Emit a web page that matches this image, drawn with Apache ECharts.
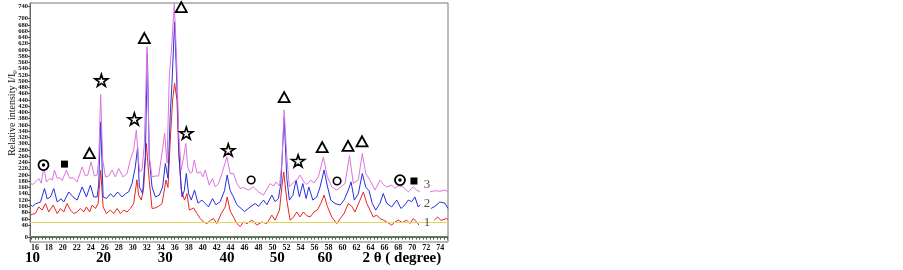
<!DOCTYPE html>
<html>
<head>
<meta charset="utf-8">
<script src="https://cdn.jsdelivr.net/npm/echarts@6/dist/echarts.min.js"></script>
<style>
html,body{margin:0;padding:0;background:#fff}
#xrd{width:903px;height:270px}
</style>
</head>
<body>
<div id="xrd"></div>
<script>
// tick labels
var xTicks = [16,18,20,22,24,26,28,30,32,34,36,38,40,42,44,46,48,50,52,54,56,58,60,62,64,66,68,70,72,74];
var yTicks = [0,20,40,60,80,100,120,140,160,180,200,220,240,260,280,300,320,340,360,380,400,
              420,440,460,480,500,520,540,560,580,600,620,640,660,680,700,720,740];
// second (large) label row under the axis
var degreeAt = [15.66, 25.8, 34.66, 43.5, 50.66, 57.5, 68.5];
var degreeText = ['10','20','30','40','50','60','2 \u03b8 ( degree)'];

// pattern 1 (red)
var curve1 = [[15.37,72],[15.7,75],[16.09,78],[16.56,98],[17.04,88],[17.51,109],[17.99,82],[18.61,104],[19.19,77],
  [19.66,93],[20.13,82],[20.61,109],[21.09,88],[21.56,77],[22.04,82],[22.51,93],[22.99,82],[23.37,98],[23.84,82],
  [24.19,104],[24.66,93],[25.04,109],[25.41,215],[25.76,98],[26.23,77],[26.8,88],[27.27,77],[27.76,93],[28.23,77],
  [28.7,88],[29.19,82],[29.66,93],[30.13,109],[30.6,185],[30.84,136],[31.23,120],[31.56,160],[31.94,301],[32.37,180],
  [32.76,93],[33.23,95],[33.7,100],[34.19,109],[34.76,184],[35.04,160],[35.37,312],[35.7,440],[35.99,493],[36.33,440],
  [36.56,280],[36.94,152],[37.41,120],[37.76,141],[38.09,88],[38.7,95],[39.19,77],[39.66,61],[40.13,50],[40.61,45],
  [41.09,55],[41.56,61],[42.04,45],[42.66,77],[43.23,98],[43.51,130],[43.94,85],[44.41,66],[44.9,45],[45.37,35],
  [45.84,50],[46.37,45],[47.04,56],[47.76,40],[48.47,50],[49.19,45],[49.9,72],[50.37,56],[50.99,88],[51.33,162],
  [51.6,210],[52.04,120],[52.51,56],[52.99,65],[53.47,82],[53.94,66],[54.41,82],[54.9,70],[55.37,66],[55.94,82],
  [56.41,88],[56.9,109],[57.37,136],[57.84,100],[58.47,66],[59.19,45],[59.66,60],[60.23,77],[60.84,109],[61.33,100],
  [61.8,82],[62.51,120],[62.99,146],[63.47,110],[63.94,88],[64.41,66],[64.9,72],[65.37,61],[65.84,56],[66.33,50],
  [67.04,40],[67.51,50],[67.99,56],[68.56,48],[69.19,56],[69.66,45],[70.13,61],[70.61,50],[70.94,40],[72,null],
  [73.13,56],[73.61,66],[74.09,55],[74.89,61],[75.1,58]];

// pattern 2 (blue)
var curve2 = [[15.37,104],[15.7,100],[16.09,108],[16.8,114],[17.37,157],[17.76,124],[18.23,130],[18.7,157],[19.19,114],
  [19.76,124],[20.13,114],[20.84,146],[21.47,130],[22.04,120],[22.76,162],[23.37,130],[23.94,168],[24.41,130],[24.9,130],
  [25.13,170],[25.41,370],[25.76,130],[26.23,125],[26.8,140],[27.27,130],[27.84,146],[28.47,130],[28.94,140],[29.41,146],
  [29.9,173],[30.37,226],[30.7,290],[30.94,162],[31.41,141],[31.8,260],[32.09,589],[32.37,250],[32.76,162],[33.23,130],
  [33.8,136],[34.27,162],[34.66,237],[35.04,190],[35.37,397],[35.61,493],[35.99,690],[36.37,450],[36.66,248],[37.04,130],
  [37.37,150],[37.66,205],[37.99,141],[38.37,120],[38.84,152],[39.33,110],[39.9,120],[40.37,109],[40.84,98],[41.41,125],
  [41.89,105],[42.51,115],[43.13,150],[43.51,200],[43.94,150],[44.41,130],[44.9,105],[45.51,93],[45.99,83],[46.8,98],
  [47.51,109],[47.99,100],[48.7,120],[49.19,105],[49.9,136],[50.37,115],[50.84,125],[51.19,173],[51.66,386],[52.04,190],
  [52.41,120],[52.9,135],[53.37,184],[53.84,130],[54.33,173],[54.8,125],[55.19,162],[55.76,120],[56.33,130],[56.8,162],
  [57.37,216],[57.84,165],[58.33,120],[58.94,109],[59.66,104],[60.23,120],[60.84,152],[61.23,178],[61.7,120],[62.27,140],
  [62.84,205],[63.33,162],[63.8,150],[64.27,109],[64.76,88],[65.37,110],[65.84,141],[66.33,110],[67.04,98],[67.76,120],
  [68.37,93],[68.94,105],[69.41,120],[69.9,115],[70.37,130],[70.84,98],[71.09,105],[72,null],[72.66,93],[73.23,100],
  [73.94,114],[74.66,110],[75.1,93]];

// pattern 3 (violet)
var curve3 = [[15.37,173],[15.7,170],[16.09,178],[16.56,189],[16.9,174],[17.27,225],[17.66,178],[18.13,189],[18.5,184],
  [18.8,216],[19.19,189],[19.56,192],[19.9,182],[20.51,216],[20.99,189],[21.47,192],[22.04,178],[22.76,226],[23.23,197],
  [23.56,200],[24.04,242],[24.51,197],[24.9,200],[25.13,248],[25.41,458],[25.7,250],[26.09,194],[26.56,197],[27.04,216],
  [27.51,194],[27.99,221],[28.61,194],[29.19,205],[29.66,250],[30.13,280],[30.51,344],[30.8,250],[31.0,210],[31.33,216],
  [31.66,300],[32.04,610],[32.37,260],[32.76,194],[33.23,197],[33.7,197],[34.19,270],[34.56,334],[34.9,238],[35.23,514],
  [35.61,622],[35.94,748],[36.3,560],[36.56,334],[36.94,216],[37.3,260],[37.59,301],[37.87,226],[38.2,206],[38.5,210],
  [38.8,248],[39.2,206],[39.7,210],[40.04,194],[40.37,216],[40.94,168],[41.41,189],[41.8,162],[42.27,173],[42.76,205],
  [43.47,258],[43.94,205],[44.41,205],[44.9,173],[45.37,157],[45.84,160],[46.56,152],[47.27,162],[47.99,146],[48.7,136],
  [49.19,155],[49.66,173],[50.13,165],[50.51,178],[50.99,165],[51.33,237],[51.66,408],[52.04,258],[52.41,162],[52.9,175],
  [53.47,184],[53.94,200],[54.41,180],[54.9,170],[55.47,184],[55.94,175],[56.56,194],[57.27,258],[57.84,194],[58.47,162],
  [59.19,152],[59.66,160],[60.37,173],[61.01,262],[61.56,173],[62.27,185],[62.84,269],[63.33,205],[63.94,184],[64.66,152],
  [65.37,184],[65.84,170],[66.33,162],[67.04,168],[67.51,158],[67.99,166],[68.7,162],[69.41,146],[70.13,162],[70.61,152],
  [71.09,146],[72,null],[72.51,146],[73.23,150],[73.94,148],[74.66,152],[75.1,146]];

// phase marks
var triangles = [[23.8,270],[31.66,638],[36.94,737],[51.66,449],[57.1,289],[60.8,293],[62.8,308]];
var stars = [[25.51,503],[30.23,379],[37.66,334],[43.66,280],[53.66,245]];
var rings = [[17.23,232],[68.23,184]];
var squares = [[20.23,235],[70.23,181]];
var circles = [[46.94,184],[59.23,181]];
var curveTags = [[72.09,47,'1'],[72.09,110,'2'],[72.09,168,'3']];
var yellowLevel = 50;
var greenLevel = 5;

var serif = '"Liberation Serif", "DejaVu Serif", serif';
var minorX = [];
for (var t = 15.5; t <= 75; t += 0.5) minorX.push(t);

var myChart = echarts.init(document.getElementById('xrd'));

function lineSeries(name, data, color) {
    return {
        name: name, type: 'line', data: data, showSymbol: false, symbol: 'none',
        connectNulls: false, lineStyle: {color: color, width: 1}, z: 3
    };
}
function markSeries(data, symbol, size, fill, bw) {
    return {
        type: 'scatter', data: data, symbol: symbol, symbolSize: size, z: 5,
        itemStyle: {color: fill, borderColor: '#000', borderWidth: bw, opacity: 1}
    };
}
var starPath = 'path://M50,0 L61,35 L98,35 L68,57 L79,91 L50,70 L21,91 L32,57 L2,35 L39,35 Z';

var option = {
    animation: false,
    grid: {left: 30, right: 455, top: 3, bottom: 28, show: true, borderColor: '#777', borderWidth: 1},
    xAxis: [{
        type: 'value', min: 15.3, max: 75.1,
        axisLine: {show: true, lineStyle: {color: '#666'}},
        axisTick: {show: true, customValues: minorX, length: 2, lineStyle: {color: '#555'}},
        axisLabel: {customValues: xTicks, margin: 2, fontSize: 8, fontWeight: 'bold', fontFamily: serif, color: '#111',
                    showMinLabel: true, showMaxLabel: true},
        splitLine: {show: false}
    }, {
        type: 'value', min: 15.3, max: 75.1, position: 'bottom',
        axisLine: {show: false}, axisTick: {show: false}, splitLine: {show: false},
        axisLabel: {
            customValues: degreeAt, margin: 9, fontSize: 15, fontWeight: 'bold', fontFamily: serif, color: '#000',
            showMinLabel: true, showMaxLabel: true,
            formatter: function (v) {
                for (var i = 0; i < degreeAt.length; i++) {
                    if (Math.abs(degreeAt[i] - v) < 0.01) return degreeText[i];
                }
                return '';
            }
        }
    }],
    yAxis: {
        type: 'value', min: -14, max: 750,
        axisLine: {show: true, lineStyle: {color: '#666'}},
        axisTick: {show: true, customValues: yTicks, length: 2, lineStyle: {color: '#555'}},
        axisLabel: {customValues: yTicks, margin: 2, fontSize: 6.5, fontWeight: 'bold', fontFamily: serif, color: '#111',
                    showMinLabel: true, showMaxLabel: true},
        splitLine: {show: false}
    },
    graphic: [{
        type: 'text', x: 12, y: 113, rotation: Math.PI / 2,
        style: {
            text: 'Relative intensity I/I{s|0}', align: 'center', verticalAlign: 'middle',
            font: '10px ' + serif, fill: '#111',
            rich: {s: {fontSize: 7, fontFamily: serif, verticalAlign: 'bottom', padding: [6, 0, 0, 0]}}
        }
    }],
    series: [
        {
            type: 'line', data: [], markLine: {
                silent: true, symbol: 'none', label: {show: false},
                data: [
                    {yAxis: yellowLevel, lineStyle: {color: '#e2d65a', width: 1, type: 'solid'}},
                    {yAxis: greenLevel, lineStyle: {color: '#4f8f4f', width: 1.2, type: 'solid'}}
                ]
            }
        },
        lineSeries('1', curve1, '#e3261f'),
        lineSeries('2', curve2, '#2430e0'),
        lineSeries('3', curve3, '#dc74dc'),
        markSeries(triangles, 'triangle', [11, 10], '#fff', 1.8),
        markSeries(stars, starPath, [13, 12], '#fff', 1.6),
        markSeries(rings, 'circle', 10, '#fff', 1.8),
        markSeries(rings, 'circle', 3.5, '#000', 0),
        markSeries(squares, 'rect', 7, '#000', 0),
        markSeries(circles, 'circle', 7.5, '#fff', 1.6),
        {
            type: 'scatter', data: curveTags, symbolSize: 0, z: 6,
            label: {
                show: true, position: 'inside', fontSize: 13, fontFamily: serif, color: '#222',
                formatter: function (p) { return p.data[2]; }
            }
        }
    ]
};
myChart.setOption(option);
</script>
</body>
</html>
